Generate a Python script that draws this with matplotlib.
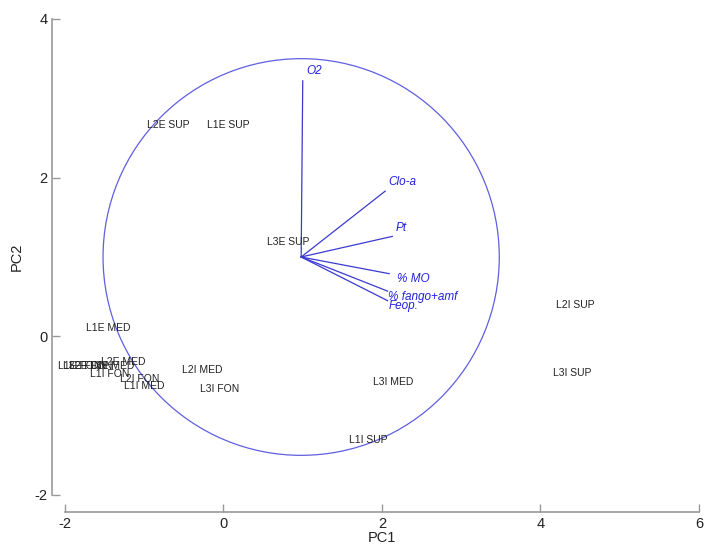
import matplotlib
matplotlib.use("Agg")
from matplotlib import pyplot as plt
from matplotlib.patches import Circle
import numpy as np

plt.rcParams['font.family'] = ['Liberation Sans', 'DejaVu Sans']
plt.rcParams['axes.unicode_minus'] = False

# sample scores (left edge of label, PC1 / PC2)
samples = ['L2E SUP', 'L1E SUP', 'L3E SUP', 'L1E MED', 'L2I SUP', 'L3I SUP',
           'L3I MED', 'L1I SUP', 'L1E FON', 'L3E FON', 'L2E FON', 'L3E MED',
           'L2E MED', 'L1I FON', 'L2I FON', 'L1I MED', 'L2I MED', 'L3I FON']
pc1 = [-0.96, -0.21, 0.55, -1.73, 4.19, 4.16,
       1.89, 1.58, -2.09, -2.02, -1.95, -1.68,
       -1.54, -1.69, -1.30, -1.25, -0.52, -0.30]
pc2 = [2.67, 2.67, 1.19, 0.11, 0.40, -0.46,
       -0.57, -1.31, -0.37, -0.37, -0.37, -0.37,
       -0.32, -0.48, -0.54, -0.63, -0.42, -0.66]

# variable loadings (vector tips) and their labels
variables = ['O2', 'Clo-a', 'Pt', '% MO', '% fango+amf', 'Feop.']
vec_x = [1.00, 2.04, 2.13, 2.09, 2.07, 2.07]
vec_y = [3.22, 1.83, 1.26, 0.79, 0.57, 0.45]
lab_x = [1.05, 2.08, 2.17, 2.19, 2.08, 2.08]
lab_y = [3.34, 1.94, 1.37, 0.72, 0.50, 0.38]

origin = (0.98, 1.0)
radius = 2.5

fig = plt.figure(figsize=(7.04, 5.44), dpi=100)
ax = fig.add_axes([65 / 704, 49 / 544, 634 / 704, 476 / 544])
ax.set_xlim(-2, 6)
ax.set_ylim(-2, 4)

# correlation circle
ax.add_patch(Circle(origin, radius, fill=False, edgecolor='#5f5fe0', lw=0.9))

# vectors
for i in range(len(variables)):
    ax.plot([origin[0], vec_x[i]], [origin[1], vec_y[i]], color='#3a3ad0', lw=0.9)
    ax.text(lab_x[i], lab_y[i], variables[i], color='#2222dd', fontsize=8.5,
            style='italic', ha='left', va='center')

# samples
for i in range(len(samples)):
    ax.text(pc1[i], pc2[i], samples[i], color='#222222', fontsize=7.5,
            ha='left', va='center')

# axes look
for s in ['top', 'right']:
    ax.spines[s].set_visible(False)
ax.spines['left'].set_position(('outward', 9.5))
ax.spines['bottom'].set_position(('outward', 12.5))
ax.spines['left'].set_bounds(-2, 4)
ax.spines['bottom'].set_bounds(-2, 6)
for s in ['left', 'bottom']:
    ax.spines[s].set_color('#999999')
    ax.spines[s].set_linewidth(1.2)
ax.set_xticks([-2, 0, 2, 4, 6])
ax.set_yticks([-2, 0, 2, 4])
ax.tick_params(direction='in', length=6, width=1, color='#999999',
               labelsize=10.5, labelcolor='#222222', pad=3)
ax.set_xlabel('PC1', fontsize=10.5, color='#222222', labelpad=0)
ax.set_ylabel('PC2', fontsize=10.5, color='#222222', labelpad=8)

fig.savefig('out.png', dpi=100)
